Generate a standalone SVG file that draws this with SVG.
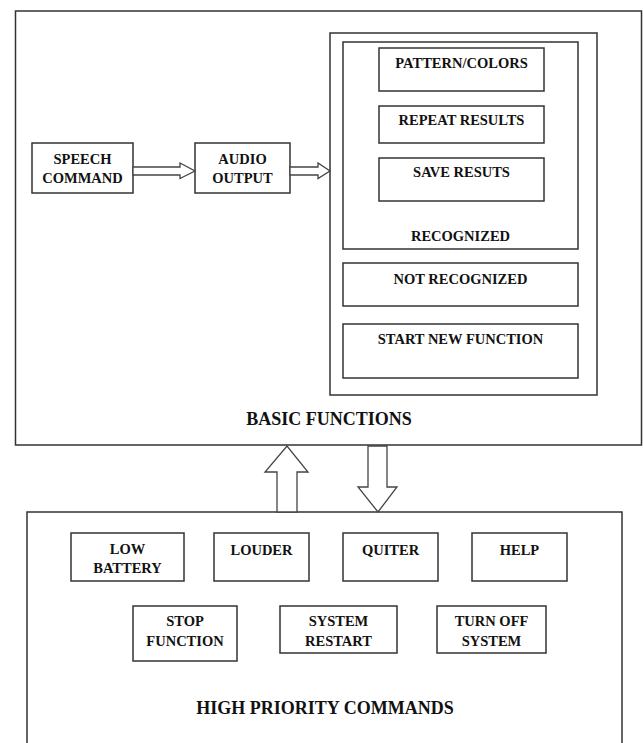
<svg xmlns="http://www.w3.org/2000/svg" width="643" height="743" viewBox="0 0 643 743">
<style>
.box{fill:#fff;stroke:#333;stroke-width:1.5}
.panel{fill:#fff;stroke:#333;stroke-width:1.5}
.t{font-family:"Liberation Serif","Times New Roman",serif;font-weight:bold;font-size:14.5px;fill:#111;text-anchor:middle}
.big{font-family:"Liberation Serif","Times New Roman",serif;font-weight:bold;font-size:18px;fill:#111;text-anchor:middle}
.arr{fill:#fff;stroke:#444;stroke-width:1.3;stroke-linejoin:miter}
</style>
<rect width="643" height="743" fill="#fff"/>
<g id="basic-functions">
<rect class="panel" x="15.5" y="11" width="626" height="434"/>
<text class="big" x="329" y="425">BASIC FUNCTIONS</text>
</g>
<g id="high-priority-commands">
<rect class="panel" x="27" y="512" width="595" height="240"/>
<text class="big" x="325" y="714">HIGH PRIORITY COMMANDS</text>
</g>
<g id="speech-command">
<rect class="box" x="32" y="143" width="101" height="50"/>
<text class="t" x="82.5" y="164">SPEECH</text>
<text class="t" x="82.5" y="183">COMMAND</text>
</g>
<g id="audio-output">
<rect class="box" x="195" y="143" width="95" height="50"/>
<text class="t" x="242.5" y="164">AUDIO</text>
<text class="t" x="242.5" y="183">OUTPUT</text>
</g>
<g id="results-panel">
<rect class="panel" x="330" y="33" width="267" height="362"/>
</g>
<g id="recognized">
<rect class="box" x="343" y="42" width="235" height="207"/>
<text class="t" x="460.5" y="241">RECOGNIZED</text>
</g>
<g id="pattern-colors">
<rect class="box" x="379" y="48" width="165" height="43"/>
<text class="t" x="461.5" y="68">PATTERN/COLORS</text>
</g>
<g id="repeat-results">
<rect class="box" x="379" y="106" width="165" height="37"/>
<text class="t" x="461.5" y="125">REPEAT RESULTS</text>
</g>
<g id="save-resuts">
<rect class="box" x="379" y="158" width="165" height="43"/>
<text class="t" x="461.5" y="177">SAVE RESUTS</text>
</g>
<g id="not-recognized">
<rect class="box" x="343" y="263" width="235" height="43"/>
<text class="t" x="460.5" y="284">NOT RECOGNIZED</text>
</g>
<g id="start-new-function">
<rect class="box" x="343" y="324" width="235" height="54"/>
<text class="t" x="460.5" y="344">START NEW FUNCTION</text>
</g>
<g id="low-battery">
<rect class="box" x="71" y="533" width="113" height="48"/>
<text class="t" x="127.5" y="554">LOW</text>
<text class="t" x="127.5" y="573">BATTERY</text>
</g>
<g id="louder">
<rect class="box" x="214" y="533" width="95" height="48"/>
<text class="t" x="261.5" y="555">LOUDER</text>
</g>
<g id="quiter">
<rect class="box" x="343" y="533" width="95" height="48"/>
<text class="t" x="390.5" y="555">QUITER</text>
</g>
<g id="help">
<rect class="box" x="472" y="533" width="95" height="48"/>
<text class="t" x="519.5" y="555">HELP</text>
</g>
<g id="stop-function">
<rect class="box" x="133" y="606" width="104" height="55"/>
<text class="t" x="185" y="626">STOP</text>
<text class="t" x="185" y="646">FUNCTION</text>
</g>
<g id="system-restart">
<rect class="box" x="280" y="606" width="117" height="47"/>
<text class="t" x="338.5" y="626">SYSTEM</text>
<text class="t" x="338.5" y="646">RESTART</text>
</g>
<g id="turn-off-system">
<rect class="box" x="437" y="606" width="109" height="47"/>
<text class="t" x="491.5" y="626">TURN OFF</text>
<text class="t" x="491.5" y="646">SYSTEM</text>
</g>
<g id="connectors">
<polygon class="arr" points="133,167 180,167 180,163 195,171 180,178.5 180,175 133,175"/>
<polygon class="arr" points="290,167 318,167 318,163 330,171 318,178.5 318,175 290,175"/>
<polygon class="arr" points="277,512 277,472 265,472 287,446 308,472 297,472 297,512"/>
<polygon class="arr" points="368,446 387,446 387,487 397,487 378,512 358,487 368,487"/>
</g>
</svg>
